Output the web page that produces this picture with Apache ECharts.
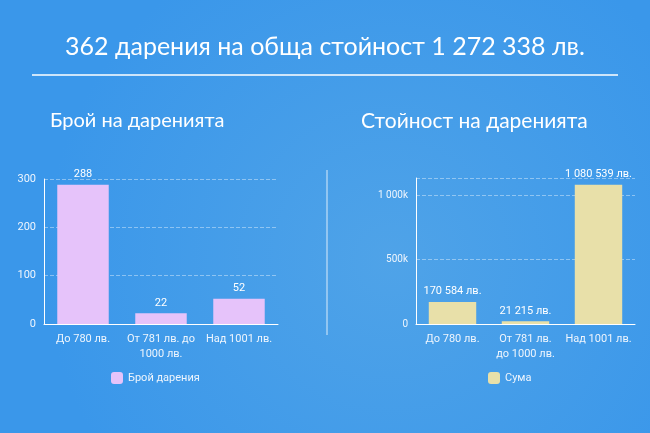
<!DOCTYPE html>
<html>
<head>
    <meta charset="utf-8">
    <script src="https://cdn.jsdelivr.net/npm/echarts@6/dist/echarts.min.js"></script>
    <style>body{margin:0;background:#3f9be8}</style>
</head>
<body>
<div id="main" style="width: 650px;height:433px;"></div>
</body>
<script>
    var categories = ['До 780 лв.', 'От 781 лв. до\n1000 лв.', 'Над 1001 лв.'];
    var categoriesRight = ['До 780 лв.', 'От 781 лв.\nдо 1000 лв.', 'Над 1001 лв.'];
    var countValues = [288, 22, 52];
    var sumValues = [170584, 21215, 1080539];

    var myChart = echarts.init(document.getElementById('main'));

    function spaced(v) {
        return String(v).replace(/\B(?=(\d{3})+(?!\d))/g, ' ');
    }
    var axisText = { color: '#eef5fd', fontSize: 11, fontFamily: 'Roboto' };

    option = {
        backgroundColor: {
            type: 'radial', x: 0.6, y: 0.6, r: 0.8,
            colorStops: [{ offset: 0, color: '#4fa3e8' }, { offset: 1, color: '#3a97ea' }]
        },
        animation: false,
        title: [
            { text: '362 дарения на обща стойност 1 272 338 лв.', left: 'center', top: 29,
              textStyle: { color: '#fff', fontSize: 25, fontWeight: 'normal', fontFamily: 'Lato' } },
            { text: 'Брой на даренията', left: 45, top: 106,
              textStyle: { color: '#fff', fontSize: 20, fontWeight: 'normal', fontFamily: 'Lato' } },
            { text: 'Стойност на даренията', left: 356, top: 106,
              textStyle: { color: '#fff', fontSize: 21, fontWeight: 'normal', fontFamily: 'Lato' } }
        ],
        graphic: [
            { type: 'line', shape: { x1: 32, y1: 75, x2: 618, y2: 75 }, style: { stroke: '#ffffff', lineWidth: 1.5 } },
            { type: 'line', shape: { x1: 327, y1: 170, x2: 327, y2: 335 }, style: { stroke: 'rgba(255,255,255,0.8)', lineWidth: 1 } }
        ],
        legend: [
            { data: ['Брой дарения'], left: 106, top: 367, itemWidth: 12, itemHeight: 12,
              textStyle: { color: '#eef5fd', fontSize: 11, fontFamily: 'Roboto' } },
            { data: ['Сума'], left: 483, top: 367, itemWidth: 12, itemHeight: 12,
              textStyle: { color: '#eef5fd', fontSize: 11, fontFamily: 'Roboto' } }
        ],
        grid: [
            { left: 44, top: 179, width: 234, height: 145 },
            { left: 416, top: 178, width: 219, height: 146 }
        ],
        xAxis: [
            { type: 'category', gridIndex: 0, data: categories,
              axisLine: { lineStyle: { color: '#fff' } }, axisTick: { show: false },
              axisLabel: Object.assign({ interval: 0, lineHeight: 15 }, axisText) },
            { type: 'category', gridIndex: 1, data: categoriesRight,
              axisLine: { lineStyle: { color: '#fff' } }, axisTick: { show: false },
              axisLabel: Object.assign({ interval: 0, lineHeight: 15 }, axisText) }
        ],
        yAxis: [
            { type: 'value', gridIndex: 0, min: 0, max: 300, interval: 100,
              axisLine: { show: true, lineStyle: { color: '#fff' } },
              splitLine: { lineStyle: { type: 'dashed', color: 'rgba(255,255,255,0.4)' } },
              axisLabel: axisText },
            { type: 'value', gridIndex: 1, min: 0, max: 1132000, interval: 500000,
              axisLine: { show: true, lineStyle: { color: '#fff' } },
              splitLine: { lineStyle: { type: 'dashed', color: 'rgba(255,255,255,0.4)' } },
              axisLabel: Object.assign({}, axisText, { showMaxLabel: false, fontSize: 10,
                  formatter: function (v) { return v === 0 ? '0' : spaced(v / 1000) + 'k'; } }) }
        ],
        series: [
            { name: 'Брой дарения', type: 'bar', xAxisIndex: 0, yAxisIndex: 0, data: countValues,
              barWidth: '66%', itemStyle: { color: '#e6c3fa' },
              label: { show: true, position: 'top', color: '#fff', fontSize: 11, fontFamily: 'Roboto' } },
            { name: 'Сума', type: 'bar', xAxisIndex: 1, yAxisIndex: 1, data: sumValues,
              barWidth: '65%', itemStyle: { color: '#e8e0a9' },
              label: { show: true, position: 'top', color: '#fff', fontSize: 11, fontFamily: 'Roboto',
                  formatter: function (p) { return spaced(p.value) + ' лв.'; } } }
        ]
    };
    myChart.setOption(option);
</script>
</html>
